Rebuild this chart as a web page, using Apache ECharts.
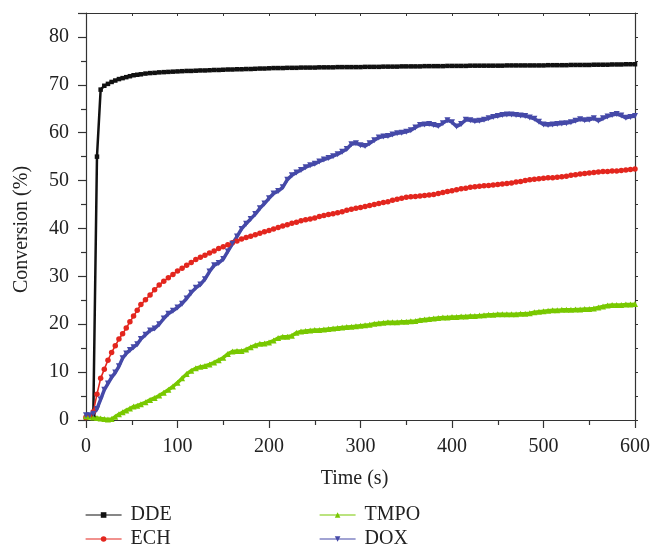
<!DOCTYPE html>
<html>
<head>
<meta charset="utf-8">
<script src="https://cdn.jsdelivr.net/npm/echarts@6/dist/echarts.min.js"></script>
<style>
html,body{margin:0;padding:0;background:#fff;}
#chart{width:653px;height:544px;}
</style>
</head>
<body>
<div id="chart"></div>
<script>
// Time (s)
var time = [
  0,4,8,12,16,20,24,28,32,36,40,44,48,52,56,60,
  65,70,75,80,85,90,95,100,
  105,110,115,120,125,130,135,140,145,150,155,160,165,170,175,180,185,190,195,200,
  205,210,215,220,225,230,235,240,245,250,255,260,265,270,275,280,285,290,295,300,
  305,310,315,320,325,330,335,340,345,350,355,360,365,370,375,380,385,390,395,400,
  405,410,415,420,425,430,435,440,445,450,455,460,465,470,475,480,485,490,495,500,
  505,510,515,520,525,530,535,540,545,550,555,560,565,570,575,580,585,590,595,600
];
var dde = [
  0.5,0.8,1.0,55.0,69.0,69.8,70.2,70.6,70.9,71.2,71.4,71.6,71.8,72.0,72.1,72.2,
  72.35,72.45,72.5,72.6,72.65,72.7,72.75,72.8,
  72.85,72.9,72.9,72.95,73.0,73.0,73.05,73.1,73.1,73.15,73.2,73.2,73.25,73.25,73.3,73.3,73.35,73.4,73.4,73.45,
  73.5,73.5,73.5,73.55,73.55,73.55,73.6,73.6,73.6,73.6,73.65,73.65,73.65,73.65,73.7,73.7,73.7,73.7,73.7,73.7,
  73.75,73.75,73.75,73.75,73.8,73.8,73.8,73.8,73.85,73.85,73.85,73.85,73.85,73.9,73.9,73.9,73.9,73.9,73.95,73.95,
  73.95,73.95,73.95,74.0,74.0,74.0,74.0,74.0,74.0,74.0,74.0,74.05,74.05,74.05,74.05,74.05,74.05,74.05,74.05,74.05,
  74.1,74.1,74.1,74.1,74.1,74.15,74.15,74.15,74.15,74.15,74.2,74.2,74.2,74.2,74.25,74.25,74.25,74.3,74.3,74.3
];
var ech = [
  0.5,0.8,1.7,5.4,8.7,10.6,12.5,14.1,15.5,16.9,18.0,19.2,20.5,21.7,22.9,24.1,
  25.1,26.1,27.2,28.2,29.0,29.7,30.4,31.1,
  31.7,32.3,32.9,33.5,34.0,34.4,34.9,35.3,35.8,36.2,36.6,37.0,37.4,37.8,38.1,38.4,38.7,39.0,39.3,39.6,
  39.9,40.2,40.5,40.8,41.1,41.3,41.6,41.8,42.0,42.2,42.5,42.7,42.9,43.1,43.3,43.5,43.8,44.0,44.2,44.4,
  44.6,44.8,45.0,45.2,45.4,45.6,45.9,46.1,46.3,46.5,46.6,46.7,46.8,46.9,47.0,47.1,47.3,47.5,47.7,47.9,
  48.1,48.3,48.4,48.6,48.7,48.8,48.9,49.0,49.1,49.2,49.3,49.4,49.5,49.7,49.8,50.0,50.2,50.3,50.4,50.5,
  50.6,50.6,50.7,50.8,50.9,51.1,51.2,51.4,51.5,51.6,51.7,51.8,51.9,51.9,52.0,52.0,52.1,52.2,52.3,52.4
];
var tmpo = [
  0.8,0.7,0.5,0.4,0.3,0.2,0.1,0.2,0.7,1.2,1.6,2.0,2.4,2.8,3.0,3.3,
  3.7,4.2,4.6,5.1,5.7,6.3,7.0,7.8,
  8.7,9.6,10.3,10.8,11.1,11.3,11.6,12.0,12.5,13.0,13.8,14.3,14.4,14.4,14.7,15.2,15.6,15.9,16.0,16.2,
  16.6,17.1,17.4,17.4,17.6,18.2,18.5,18.6,18.7,18.8,18.8,18.9,19.0,19.1,19.2,19.3,19.4,19.5,19.6,19.7,
  19.8,19.9,20.1,20.2,20.3,20.4,20.4,20.4,20.5,20.5,20.6,20.7,20.9,21.0,21.1,21.2,21.3,21.4,21.4,21.5,
  21.5,21.6,21.6,21.7,21.7,21.8,21.9,22.0,22.0,22.1,22.1,22.1,22.1,22.1,22.2,22.2,22.3,22.5,22.6,22.7,
  22.8,22.9,22.9,23.0,23.0,23.0,23.1,23.1,23.2,23.2,23.3,23.5,23.7,23.9,24.0,24.0,24.0,24.1,24.1,24.2
];
var dox = [
  1.0,1.0,1.3,2.3,4.3,6.3,7.6,8.9,9.9,11.2,12.9,13.9,14.6,15.2,15.8,16.9,
  17.8,18.7,19.1,20.0,21.2,22.2,22.8,23.5,
  24.3,25.4,26.6,27.6,28.3,29.4,31.0,32.3,32.8,33.6,35.2,36.8,38.3,39.9,41.0,42.0,43.0,44.2,45.2,46.3,
  47.3,47.8,48.6,50.2,51.1,51.7,52.2,52.8,53.2,53.5,54.0,54.4,54.7,55.1,55.5,56.0,56.6,57.6,57.8,57.4,
  57.2,57.8,58.4,59.0,59.2,59.3,59.6,59.9,60.0,60.2,60.5,61.1,61.6,61.7,61.8,61.6,61.4,62.0,62.6,62.2,
  61.3,61.8,62.7,62.6,62.4,62.5,62.7,63.0,63.3,63.5,63.7,63.8,63.8,63.7,63.6,63.5,63.2,62.9,62.3,61.7,
  61.6,61.7,61.8,61.9,62.0,62.2,62.5,62.8,62.6,62.7,63.0,62.5,63.0,63.4,63.7,63.9,63.6,63.1,63.3,63.5
];
var seriesNames = ['DDE', 'ECH', 'TMPO', 'DOX'];
var xTicks = [0, 100, 200, 300, 400, 500, 600];
var yTicks = [0, 10, 20, 30, 40, 50, 60, 70, 80];

function pairs(vals) {
  return time.map(function (t, i) { return [t, vals[i]]; });
}

var FONT = 'Liberation Serif';
var AX = '#333';
var chart = echarts.init(document.getElementById('chart'), null, {renderer: 'canvas'});

function legendAt(name, left, top) {
  return {
    data: [name], left: left, top: top, orient: 'horizontal', padding: 0,
    itemWidth: 36, itemHeight: 7, itemGap: 0,
    lineStyle: {width: 1.2},
    textStyle: {fontFamily: FONT, fontSize: 20, color: '#222', padding: [0, 0, 0, 4]}
  };
}

var option = {
  animation: false,
  backgroundColor: '#fff',
  grid: {left: 86, right: 16, top: 13, bottom: 124, containLabel: false},
  xAxis: [{
    type: 'value', min: 0, max: 600, interval: 100,
    name: 'Time (s)', nameLocation: 'middle', nameGap: 49,
    nameTextStyle: {fontFamily: FONT, fontSize: 20, color: '#222', padding: [0, 12, 0, 0]},
    axisLine: {show: true, onZero: false, lineStyle: {color: AX, width: 1.2}},
    axisTick: {show: true, inside: false, length: 8, lineStyle: {color: AX, width: 1.2}},
    minorTick: {show: true, splitNumber: 2, length: 5, lineStyle: {color: AX, width: 1.2}},
    axisLabel: {fontFamily: FONT, fontSize: 20, color: '#222', margin: 17,
      formatter: function (v) { return xTicks.indexOf(v) >= 0 ? String(v) : ''; }},
    splitLine: {show: false}
  }, {
    type: 'value', position: 'top', min: 0, max: 600, interval: 50,
    axisLine: {show: true, onZero: false, lineStyle: {color: AX, width: 1.2}},
    axisTick: {show: true, inside: true, length: 3, lineStyle: {color: AX, width: 1}},
    axisLabel: {show: false}, splitLine: {show: false}
  }],
  yAxis: [{
    type: 'value', min: 0, max: 85, interval: 10,
    name: 'Conversion (%)', nameLocation: 'middle', nameGap: 54,
    nameTextStyle: {fontFamily: FONT, fontSize: 20, color: '#222', padding: [0, 26, 0, 0]},
    axisLine: {show: true, onZero: false, lineStyle: {color: AX, width: 1.2}},
    axisTick: {show: true, inside: false, length: 8, lineStyle: {color: AX, width: 1.2}},
    minorTick: {show: true, splitNumber: 2, length: 5, lineStyle: {color: AX, width: 1.2}},
    axisLabel: {fontFamily: FONT, fontSize: 20, color: '#222', margin: 17, showMaxLabel: false,
      formatter: function (v) { return yTicks.indexOf(v) >= 0 ? String(v) : ''; }},
    splitLine: {show: false}
  }, {
    type: 'value', position: 'right', min: 0, max: 85, interval: 5,
    axisLine: {show: true, onZero: false, lineStyle: {color: AX, width: 1.2}},
    axisTick: {show: true, inside: false, length: 3, lineStyle: {color: AX, width: 1}},
    axisLabel: {show: false}, splitLine: {show: false}
  }],
  legend: [
    legendAt('DDE', 85, 505),
    legendAt('ECH', 85, 529),
    legendAt('TMPO', 319, 505),
    legendAt('DOX', 319, 529)
  ],
  series: [
    {name: 'DDE', type: 'line', data: pairs(dde), color: '#111',
     symbol: 'rect', symbolSize: 4.5, showAllSymbol: true,
     lineStyle: {width: 2.5, color: '#111'}, itemStyle: {color: '#111'}},
    {name: 'ECH', type: 'line', data: pairs(ech), color: '#e3261e',
     symbol: 'circle', symbolSize: 5.5, showAllSymbol: true,
     lineStyle: {width: 1.6, color: '#e3261e'}, itemStyle: {color: '#e3261e'}},
    {name: 'TMPO', type: 'line', data: pairs(tmpo), color: '#78c800',
     symbol: 'triangle', symbolSize: 6, showAllSymbol: true,
     lineStyle: {width: 3.5, color: '#78c800'}, itemStyle: {color: '#78c800'}},
    {name: 'DOX', type: 'line', data: pairs(dox), color: '#4549a8',
     symbol: 'triangle', symbolRotate: 180, symbolSize: 6, showAllSymbol: true,
     lineStyle: {width: 3.5, color: '#4549a8'}, itemStyle: {color: '#4549a8'}}
  ]
};
chart.setOption(option);
</script>
</body>
</html>
